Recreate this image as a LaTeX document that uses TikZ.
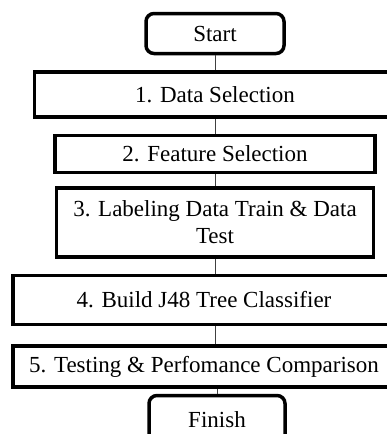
\documentclass[tikz,border=0pt]{standalone}
\usepackage{fontspec}
\setmainfont{Liberation Serif}
\usetikzlibrary{positioning}
\tikzset{
    stepbox/.style = {
        draw,
        line width=3.5pt,
        inner sep=0pt,
        align=center,
        font=\fontsize{23}{27}\selectfont,
        },
    terminal/.style = {
        stepbox,
        rounded corners=8pt,
        minimum width=138pt,
        minimum height=40pt,
        },
    link/.style = {
        draw=black!75,
        line width=1pt,
        },
}

\begin{document}
\begin{tikzpicture}
            \useasboundingbox (0,0) rectangle (386pt,-434pt);
            \node[terminal] (start) at (215pt,-33.5pt) {Start};
            \node[stepbox, minimum width=361pt, minimum height=45pt, below=15pt of start] (select) {1. Data Selection};
            \node[stepbox, minimum width=320pt, minimum height=37pt, below=15pt of select] (feature) {2. Feature Selection};
            \node[stepbox, minimum width=317pt, minimum height=69pt, below=12pt of feature] (label) {3. Labeling Data Train \& Data\\Test};
            \node[stepbox, minimum width=382pt, minimum height=49pt, below=15pt of label, xshift=-11pt] (build) {4. Build J48 Tree Classifier};
            \node[stepbox, minimum width=382pt, minimum height=41pt, below=18pt of build] (test) {5. Testing \& Perfomance Comparison};
            \node[terminal, minimum width=136pt, minimum height=48pt, below=5pt of test, xshift=13pt] (finish) {Finish};

            \path[link] (start) -- (select);
            \path[link] (select) -- (feature);
            \path[link] (feature) -- (label);
            \path[link] (label) -- (label.south |- build.north);
            \path[link] (build.south -| label.south) -- (test.north -| label.south);
            \path[link] (test.south -| finish.north) -- (finish);
        \end{tikzpicture}
\end{document}
